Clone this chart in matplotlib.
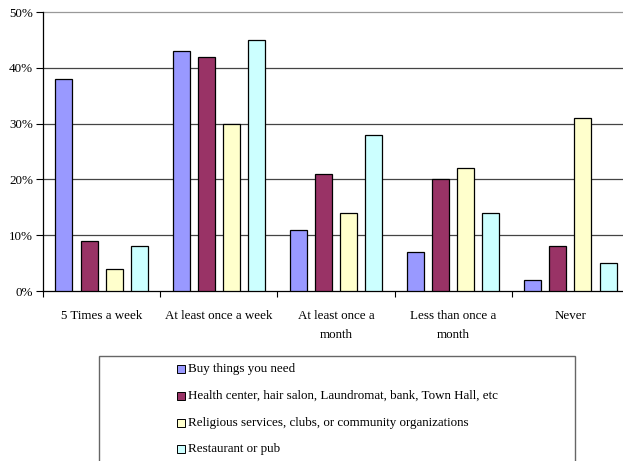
import matplotlib
matplotlib.use("Agg")
import matplotlib.pyplot as plt
import numpy as np
from matplotlib.patches import Rectangle

plt.rcParams['font.family'] = ['Liberation Serif', 'DejaVu Serif']

categories = ["5 Times a week", "At least once a week", "At least once a\nmonth",
              "Less than once a\nmonth", "Never"]
series_names = ["Buy things you need",
                "Health center, hair salon, Laundromat, bank, Town Hall, etc",
                "Religious services, clubs, or community organizations",
                "Restaurant or pub"]
buy_things = [38, 43, 11, 7, 2]
health_center = [9, 42, 21, 20, 8]
religious = [4, 30, 14, 22, 31]
restaurant = [8, 45, 28, 14, 5]
y_ticks = [0, 10, 20, 30, 40, 50]

series = [buy_things, health_center, religious, restaurant]
colors = ["#9999FF", "#993366", "#FFFFCC", "#CCFFFF"]

FS = 9.4
W, H = 623, 461
fig = plt.figure(figsize=(W / 100, H / 100), dpi=100)

def fx(px):
    return px / W

def fy(py):
    return 1 - py / H

left, right, top, bottom = 43, 629, 12, 291
ax = fig.add_axes([fx(left), fy(bottom), fx(right - left), fy(top) - fy(bottom)])

x = np.arange(len(categories))
stride = 0.214
width = 0.145
for i, (vals, c) in enumerate(zip(series, colors)):
    ax.bar(x + (i - 1.5) * stride, vals, width=width, color=c,
           edgecolor="black", linewidth=0.9, zorder=3)

ax.set_xlim(-0.5, len(categories) - 0.5)
ax.set_ylim(0, 50)
ax.set_yticks(y_ticks)
ax.set_yticklabels([f"{v}%" for v in y_ticks], fontsize=FS)
for v in y_ticks[1:]:
    ax.axhline(v, color="#999999" if v == y_ticks[-1] else "#444444",
               linewidth=0.9, zorder=0, clip_on=False)

ax.set_xticks(np.arange(len(categories) + 1) - 0.5)
ax.set_xticklabels([])
ax.set_xticks(x, minor=True)
ax.set_xticklabels(categories, minor=True, fontsize=FS, linespacing=1.85)
ax.tick_params(axis="x", which="minor", length=0, pad=13.5)
ax.tick_params(axis="x", which="major", length=4, width=0.8, direction="out")
ax.tick_params(axis="y", length=5, width=0.8, direction="out", pad=2)

for s in ["top", "right"]:
    ax.spines[s].set_visible(False)
for s in ["left", "bottom"]:
    ax.spines[s].set_color("black")
    ax.spines[s].set_linewidth(0.9)

# legend box drawn in figure pixels
box_l, box_r, box_t = 99, 575, 356
fig.patches.append(Rectangle((fx(box_l), fy(H + 5)), fx(box_r - box_l), fy(box_t) - fy(H + 5),
                             transform=fig.transFigure, facecolor="white",
                             edgecolor="#666666", linewidth=1.0))
rows = [369, 396, 423, 449]
for name, c, ry in zip(series_names, colors, rows):
    fig.patches.append(Rectangle((fx(177), fy(ry + 4)), fx(8), fy(ry - 4) - fy(ry + 4),
                                 transform=fig.transFigure, facecolor=c,
                                 edgecolor="black", linewidth=0.7))
    fig.text(fx(188), fy(ry), name, fontsize=FS, va="center", ha="left")

fig.savefig("out.png", dpi=100)
